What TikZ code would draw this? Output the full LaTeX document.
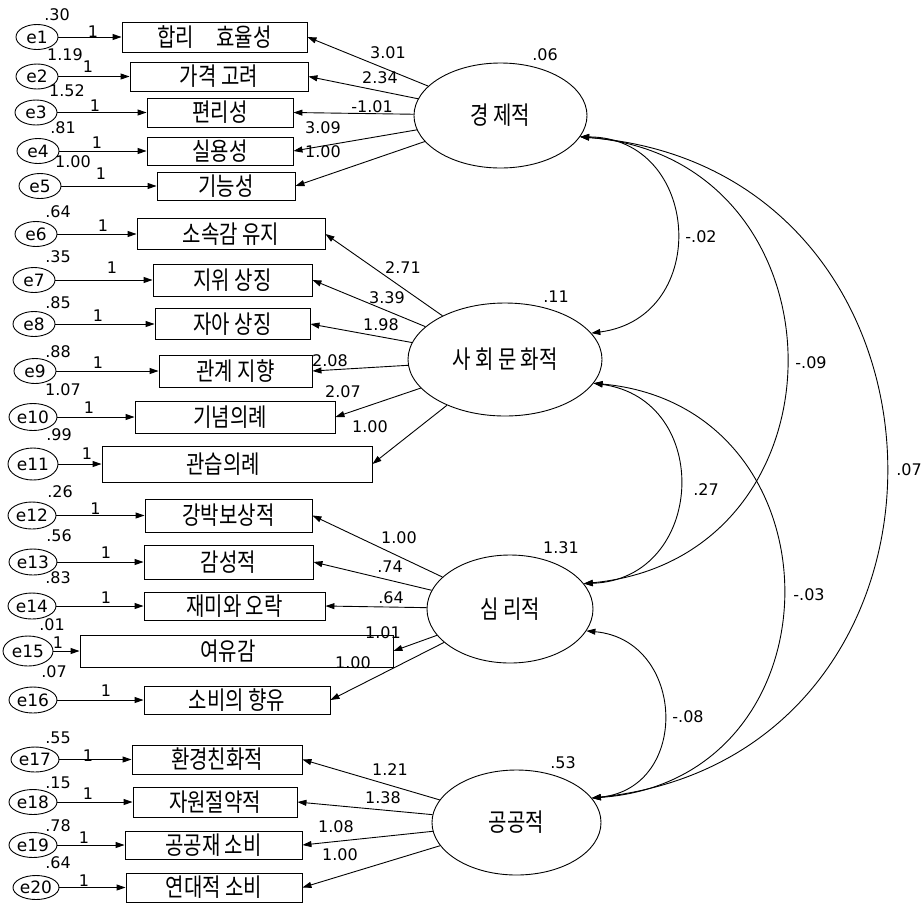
\documentclass[tikz,border=0pt]{standalone}
\usepackage{fontspec}
\newfontfamily\krfont[FakeStretch=0.8]{Noto Sans CJK KR}
\newfontfamily\numfont{DejaVu Sans}
\usetikzlibrary{shapes.geometric,arrows.meta}
\begin{document}
\begin{tikzpicture}[x=1pt,y=-1pt,line width=0.9pt,
  obs/.style={draw,rectangle,inner sep=0pt,font={\krfont\fontsize{25}{27}\selectfont}},
  lat/.style={draw,ellipse,inner sep=0pt,font={\krfont\fontsize{25}{27}\selectfont}},
  err/.style={draw,ellipse,inner sep=0pt,font={\numfont\fontsize{17}{19}\selectfont}},
  num/.style={inner sep=0pt,font={\numfont\fontsize{16}{18}\selectfont}},
  arr/.style={-{Triangle[length=9pt,width=6pt]}},
  cov/.style={{Triangle[length=9pt,width=6pt]}-{Triangle[length=9pt,width=6pt]}}]
\fill[white] (0,0) rectangle (921,906);
\useasboundingbox (0,0) rectangle (921,906);

% latent variables
\node[lat,minimum width=173pt,minimum height=105pt] (econ) at (500.5,115.5) {경 제적};
\node[lat,minimum width=194pt,minimum height=113pt] (soc) at (505,359.5) {사 회 문 화적};
\node[lat,minimum width=166pt,minimum height=108pt] (psy) at (510,609) {심 리적};
\node[lat,minimum width=169pt,minimum height=105pt] (pub) at (516.5,822.5) {공공적};

% observed variables
\node[obs,minimum width=185pt,minimum height=30pt] (b1) at (214.5,37) {합리\hspace{22pt}효율성};
\node[obs,minimum width=178pt,minimum height=29pt] (b2) at (219,76.5) {가격 고려};
\node[obs,minimum width=146pt,minimum height=29pt] (b3) at (220,112.5) {편리성};
\node[obs,minimum width=146pt,minimum height=28pt] (b4) at (220,151) {실용성};
\node[obs,minimum width=138pt,minimum height=28pt] (b5) at (226,186) {기능성};
\node[obs,minimum width=188pt,minimum height=31pt] (b6) at (231,234) {소속감 유지};
\node[obs,minimum width=159pt,minimum height=32pt] (b7) at (232.5,280) {지위 상징};
\node[obs,minimum width=155pt,minimum height=31pt] (b8) at (232.5,324) {자아 상징};
\node[obs,minimum width=153pt,minimum height=32pt] (b9) at (235.5,371) {관계 지향};
\node[obs,minimum width=200pt,minimum height=32pt] (b10) at (235,417) {\hspace*{-10pt}기념의례};
\node[obs,minimum width=270pt,minimum height=36pt] (b11) at (237,464) {\hspace*{-28pt}관습의례};
\node[obs,minimum width=167pt,minimum height=33pt] (b12) at (228.5,515.5) {강박보상적};
\node[obs,minimum width=169pt,minimum height=34pt] (b13) at (228.5,562) {감성적};
\node[obs,minimum width=181pt,minimum height=28pt] (b14) at (234.5,606) {재미와 오락};
\node[obs,minimum width=313pt,minimum height=32pt] (b15) at (236.5,651) {\hspace*{-17pt}여유감};
\node[obs,minimum width=186pt,minimum height=28pt] (b16) at (237,700) {소비의 향유};
\node[obs,minimum width=170pt,minimum height=29pt] (b17) at (217,759.5) {환경친화적};
\node[obs,minimum width=164pt,minimum height=30pt] (b18) at (215,802) {자원절약적};
\node[obs,minimum width=177pt,minimum height=28pt] (b19) at (213.5,845) {공공재 소비};
\node[obs,minimum width=176pt,minimum height=29pt] (b20) at (214,887.5) {연대적 소비};

% error terms
\node[err,minimum width=42pt,minimum height=25pt] (e1) at (37,37) {e1};
\node[err,minimum width=42pt,minimum height=25pt] (e2) at (37,76.5) {e2};
\node[err,minimum width=42pt,minimum height=25pt] (e3) at (36,112.5) {e3};
\node[err,minimum width=42pt,minimum height=25pt] (e4) at (38,151) {e4};
\node[err,minimum width=42pt,minimum height=25pt] (e5) at (40,186) {e5};
\node[err,minimum width=42pt,minimum height=25pt] (e6) at (36,234) {e6};
\node[err,minimum width=42pt,minimum height=25pt] (e7) at (34,280) {e7};
\node[err,minimum width=42pt,minimum height=25pt] (e8) at (34,324) {e8};
\node[err,minimum width=42pt,minimum height=25pt] (e9) at (35,371) {e9};
\node[err,minimum width=48pt,minimum height=27pt] (e10) at (33,417) {e10};
\node[err,minimum width=50pt,minimum height=32pt] (e11) at (33,464) {e11};
\node[err,minimum width=48pt,minimum height=27pt] (e12) at (32,515.5) {e12};
\node[err,minimum width=48pt,minimum height=26pt] (e13) at (33,562) {e13};
\node[err,minimum width=48pt,minimum height=26pt] (e14) at (32,606) {e14};
\node[err,minimum width=50pt,minimum height=30pt] (e15) at (28,651) {e15};
\node[err,minimum width=48pt,minimum height=26pt] (e16) at (33,700) {e16};
\node[err,minimum width=48pt,minimum height=25pt] (e17) at (35,759.5) {e17};
\node[err,minimum width=48pt,minimum height=25pt] (e18) at (33,802) {e18};
\node[err,minimum width=48pt,minimum height=25pt] (e19) at (33,845) {e19};
\node[err,minimum width=46pt,minimum height=24pt] (e20) at (36,887.5) {e20};

% error arrows
\foreach \i in {1,...,20} {\draw[arr] (e\i) -- (b\i);}

% loadings
\foreach \i in {1,...,5} {\draw[arr] (econ) -- (b\i.east);}
\foreach \i in {6,...,11} {\draw[arr] (soc) -- (b\i.east);}
\foreach \i in {12,...,16} {\draw[arr] (psy) -- (b\i.east);}
\foreach \i in {17,...,20} {\draw[arr] (pub) -- (b\i.east);}

% covariances
\draw[cov] (econ.-15) .. controls +(121.5,0.6) and +(120.5,-15.6) .. (soc.17);
\draw[cov] (econ.-15) .. controls +(272,21) and +(272,-26) .. (psy.19);
\draw[cov] (econ.-15) .. controls +(400,31.5) and +(399,-43) .. (pub.18);
\draw[cov] (soc.-15.5) .. controls +(120.7,16.5) and +(121.7,-4.3) .. (psy.19);
\draw[cov] (soc.-15.5) .. controls +(253,23) and +(253.6,-17.9) .. (pub.18);
\draw[cov] (psy.-16) .. controls +(99.4,9) and +(99.3,-10.1) .. (pub.18);

% covariance labels
\node[num] at (701,237) {-.02};
\node[num] at (811,363) {-.09};
\node[num] at (909,470) {.07};
\node[num] at (706,490) {.27};
\node[num] at (809,595) {-.03};
\node[num] at (688,717) {-.08};

% latent variances
\node[num] at (545,55) {.06};
\node[num] at (556,297) {.11};
\node[num] at (561,548) {1.31};
\node[num] at (563,763) {.53};

% loading labels
\node[num] at (388,53) {3.01};
\node[num] at (380,78) {2.34};
\node[num] at (372,107) {-1.01};
\node[num] at (323,128) {3.09};
\node[num] at (323,152) {1.00};
\node[num] at (403,268) {2.71};
\node[num] at (387,298) {3.39};
\node[num] at (381,325) {1.98};
\node[num] at (330,361) {2.08};
\node[num] at (343,392) {2.07};
\node[num] at (370,427) {1.00};
\node[num] at (399,538) {1.00};
\node[num] at (390,567) {.74};
\node[num] at (391,598) {.64};
\node[num] at (383,633) {1.01};
\node[num] at (353,663) {1.00};
\node[num] at (390,770) {1.21};
\node[num] at (383,798) {1.38};
\node[num] at (336,827) {1.08};
\node[num] at (340,855) {1.00};

% error variances
\node[num] at (57,15) {.30};
\node[num] at (65,55) {1.19};
\node[num] at (67,91) {1.52};
\node[num] at (63,128) {.81};
\node[num] at (73,162) {1.00};
\node[num] at (58,212) {.64};
\node[num] at (58,257) {.35};
\node[num] at (58,303) {.85};
\node[num] at (58,352) {.88};
\node[num] at (63,390) {1.07};
\node[num] at (59,435) {.99};
\node[num] at (60,492) {.26};
\node[num] at (59,536) {.56};
\node[num] at (58,578) {.83};
\node[num] at (52,625) {.01};
\node[num] at (54,672) {.07};
\node[num] at (58,738) {.55};
\node[num] at (58,783) {.15};
\node[num] at (58,826) {.78};
\node[num] at (58,863) {.64};

% fixed loadings of error terms
\node[num] at (93,32) {1};
\node[num] at (88,67) {1};
\node[num] at (95,106) {1};
\node[num] at (97,142.5) {1};
\node[num] at (101,174) {1};
\node[num] at (103,226) {1};
\node[num] at (112,268) {1};
\node[num] at (98,316) {1};
\node[num] at (98,362.5) {1};
\node[num] at (89,407.5) {1};
\node[num] at (87,454) {1};
\node[num] at (95.5,509) {1};
\node[num] at (106,552.5) {1};
\node[num] at (106,597.5) {1};
\node[num] at (58,642.5) {1};
\node[num] at (106,691) {1};
\node[num] at (88,756) {1};
\node[num] at (88,794) {1};
\node[num] at (84,837.5) {1};
\node[num] at (84,881) {1};
\end{tikzpicture}
\end{document}
